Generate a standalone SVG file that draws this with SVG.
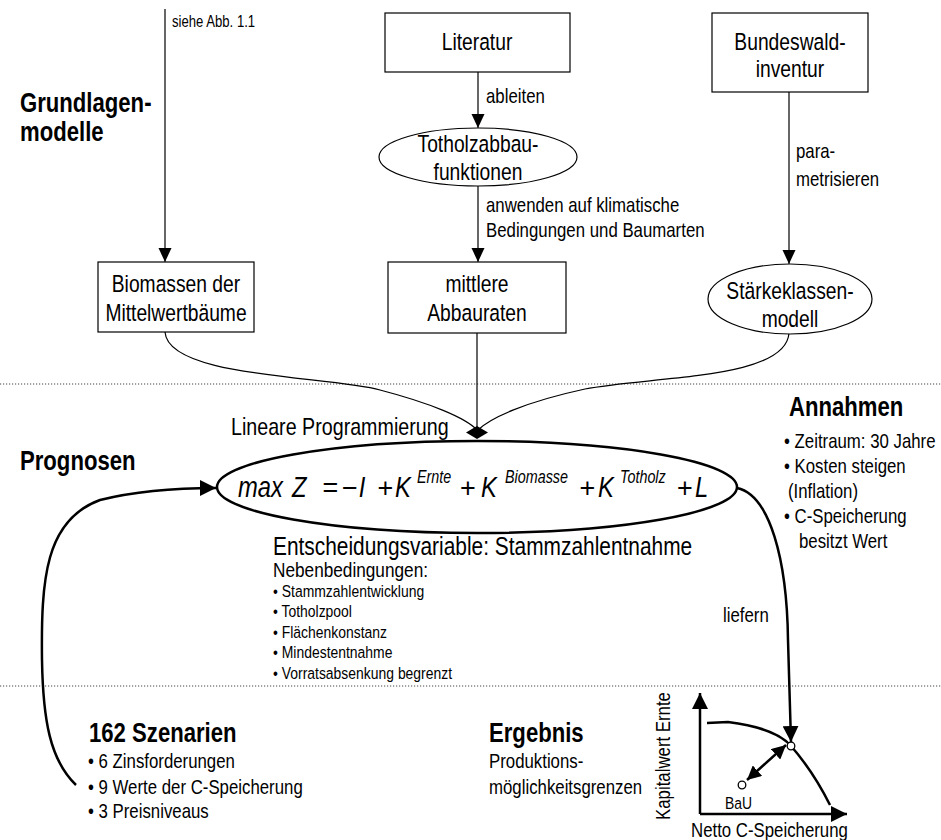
<svg xmlns="http://www.w3.org/2000/svg" width="941" height="840" viewBox="0 0 941 840">
<style>
text{font-family:"Liberation Sans",Arial,sans-serif;fill:#000}
.node{font-size:23.5px;text-anchor:middle}
.lbl{font-size:20.5px}
.ttl{font-size:27px;font-weight:bold}
.b17{font-size:20.5px}
.b14{font-size:17px}
.shape{fill:#fff;stroke:#000;stroke-width:1.2}
.thin{fill:none;stroke:#000;stroke-width:1.2}
.thick{fill:none;stroke:#000;stroke-width:2.5}
.dots{stroke:#444;stroke-width:1;stroke-dasharray:1.2 1.8}
.it{font-style:italic;font-size:29px}
.op{font-size:27px;text-anchor:middle}
.sup{font-style:italic;font-size:17.5px}
</style>
<defs>
<marker id="a" markerUnits="userSpaceOnUse" markerWidth="13" markerHeight="14" refX="14" refY="6.5" orient="auto">
<path d="M0,0 L14,6.5 L0,13 z" fill="#000"/>
</marker>
<marker id="ab" markerUnits="userSpaceOnUse" markerWidth="16" markerHeight="16" refX="16" refY="8" orient="auto">
<path d="M0,0 L16,8 L0,16 z" fill="#000"/>
</marker>
<marker id="ac" markerUnits="userSpaceOnUse" markerWidth="14" markerHeight="14" refX="14" refY="7" orient="auto-start-reverse">
<path d="M0,0 L14,7 L0,14 z" fill="#000"/>
</marker>
</defs>

<!-- dotted section separators -->
<line class="dots" x1="0" y1="384" x2="941" y2="384"/>
<line class="dots" x1="0" y1="686" x2="941" y2="686"/>

<!-- section titles (narrow: x scaled by 1/0.82) -->
<g transform="scale(0.82 1)">
<text class="ttl" x="24.39" y="112">Grundlagen-</text>
<text class="ttl" x="24.39" y="141">modelle</text>
<text class="ttl" x="24.39" y="470">Prognosen</text>
</g>

<!-- connectors -->
<g id="connectors">
<line class="thin" x1="165" y1="9" x2="165" y2="262" marker-end="url(#a)"/>
<line class="thin" x1="478" y1="72" x2="478" y2="128" marker-end="url(#a)"/>
<line class="thin" x1="478" y1="186" x2="478" y2="262" marker-end="url(#a)"/>
<line class="thin" x1="789" y1="92" x2="789" y2="264" marker-end="url(#a)"/>
<path class="thin" d="M165,332 C168,378 330,376 380,390 C430,403 466,418 477,430"/>
<line class="thin" x1="477" y1="333" x2="477" y2="428"/>
<path class="thin" d="M789,333 C786,380 650,376 585,389 C525,402 490,418 478,430"/>
<polygon points="477,426 488,432.5 477,439 466,432.5" fill="#000"/>
<path class="thick" d="M76,785 C50,760 43,720 42,660 C41,580 45,520 100,500 C140,490 180,488 216,488" marker-end="url(#ab)"/>
<path class="thick" d="M737,488 C770,495 787,560 788,640 L791,742" marker-end="url(#ab)"/>
<g transform="scale(0.82 1)">
<text class="lbl" x="592.68" y="103">ableiten</text>
<text class="lbl" x="592.68" y="212">anwenden auf klimatische</text>
<text class="lbl" x="592.68" y="237">Bedingungen und Baumarten</text>
<text class="lbl" x="970.73" y="158">para-</text>
<text class="lbl" x="970.73" y="186">metrisieren</text>
<text class="lbl" x="881.71" y="622">liefern</text>
<text x="209.76" y="27" style="font-size:16px">siehe Abb. 1.1</text>
</g>
</g>

<g id="literatur">
<rect class="shape" x="385" y="13" width="185" height="59"/>
<g transform="scale(0.82 1)"><text class="node" x="581.71" y="50">Literatur</text></g>
</g>

<g id="totholzabbaufunktionen">
<ellipse class="shape" cx="478" cy="157" rx="99" ry="29"/>
<g transform="scale(0.82 1)">
<text class="node" x="582.93" y="152">Totholzabbau-</text>
<text class="node" x="582.93" y="180">funktionen</text>
</g>
</g>

<g id="bundeswaldinventur">
<rect class="shape" x="712" y="13" width="156" height="79"/>
<g transform="scale(0.82 1)">
<text class="node" x="963.41" y="50">Bundeswald-</text>
<text class="node" x="963.41" y="77">inventur</text>
</g>
</g>

<g id="biomassen">
<rect class="shape" x="98" y="262" width="156" height="70"/>
<g transform="scale(0.82 1)">
<text class="node" x="214.63" y="292">Biomassen der</text>
<text class="node" x="214.63" y="321">Mittelwertbäume</text>
</g>
</g>

<g id="abbauraten">
<rect class="shape" x="388" y="262" width="178" height="71"/>
<g transform="scale(0.82 1)">
<text class="node" x="581.71" y="292">mittlere</text>
<text class="node" x="581.71" y="321">Abbauraten</text>
</g>
</g>

<g id="staerkeklassenmodell">
<ellipse class="shape" cx="790" cy="299" rx="82" ry="35"/>
<g transform="scale(0.82 1)">
<text class="node" x="963.41" y="299">Stärkeklassen-</text>
<text class="node" x="963.41" y="327">modell</text>
</g>
</g>

<g id="lineare-programmierung">
<ellipse cx="477" cy="487" rx="260" ry="46" fill="none" stroke="#000" stroke-width="2.5"/>
<text class="op" x="330.5" y="497">=</text>
<text class="op" x="350" y="497">−</text>
<text class="op" x="385.5" y="497">+</text>
<text class="op" x="468" y="497">+</text>
<text class="op" x="587.5" y="497">+</text>
<text class="op" x="685" y="497">+</text>
<g transform="scale(0.82 1)">
<text x="281.71" y="435" style="font-size:24px">Lineare Programmierung</text>
<text class="it" x="290.24" y="497">max</text>
<text class="it" x="356.10" y="497">Z</text>
<text class="it" x="437.5" y="497">I</text>
<text class="it" x="481.71" y="497">K</text>
<text class="sup" x="508.54" y="483">Ernte</text>
<text class="it" x="586.59" y="497">K</text>
<text class="sup" x="615.85" y="483">Biomasse</text>
<text class="it" x="729.27" y="497">K</text>
<text class="sup" x="756.10" y="483">Totholz</text>
<text class="it" x="847.56" y="497">L</text>
<text x="332.93" y="555" style="font-size:25.5px">Entscheidungsvariable: Stammzahlentnahme</text>
<text x="332.93" y="577" style="font-size:21px">Nebenbedingungen:</text>
<text class="b14" x="332.93" y="597">• Stammzahlentwicklung</text>
<text class="b14" x="332.93" y="617">• Totholzpool</text>
<text class="b14" x="332.93" y="638">• Flächenkonstanz</text>
<text class="b14" x="332.93" y="658">• Mindestentnahme</text>
<text class="b14" x="332.93" y="679">• Vorratsabsenkung begrenzt</text>
</g>
</g>

<g id="annahmen">
<g transform="scale(0.82 1)">
<text class="ttl" x="962.20" y="416">Annahmen</text>
<text class="b17" x="956.10" y="448">• Zeitraum: 30 Jahre</text>
<text class="b17" x="956.10" y="473">• Kosten steigen</text>
<text class="b17" x="960.98" y="498">(Inflation)</text>
<text class="b17" x="956.10" y="523">• C-Speicherung</text>
<text class="b17" x="974.39" y="548">besitzt Wert</text>
</g>
</g>

<g id="szenarien">
<g transform="scale(0.82 1)">
<text class="ttl" x="108.54" y="742">162 Szenarien</text>
<text class="b17" x="107.32" y="768">• 6 Zinsforderungen</text>
<text class="b17" x="107.32" y="794">• 9 Werte der C-Speicherung</text>
<text class="b17" x="107.32" y="818">• 3 Preisniveaus</text>
</g>
</g>

<g id="ergebnis">
<g transform="scale(0.82 1)">
<text class="ttl" x="596.34" y="742">Ergebnis</text>
<text class="b17" x="596.34" y="768">Produktions-</text>
<text class="b17" x="596.34" y="794">möglichkeitsgrenzen</text>
</g>
</g>

<g id="chart">
<line class="thick" x1="700" y1="814" x2="700" y2="693" stroke-width="2" marker-end="url(#ab)"/>
<line class="thick" x1="700" y1="814" x2="847" y2="814" stroke-width="2" marker-end="url(#ab)"/>
<path class="thick" d="M707,723 L728,722 C760,726 782,735 791,746 C805,762 820,785 830,805"/>
<line class="thick" x1="786" y1="745" x2="747" y2="780" stroke-width="2.5" marker-start="url(#ac)" marker-end="url(#ac)"/>
<circle cx="791" cy="746" r="3.8" fill="#fff" stroke="#000" stroke-width="1.3"/>
<circle cx="742" cy="785" r="3.8" fill="#fff" stroke="#000" stroke-width="1.3"/>
<g transform="scale(0.82 1)">
<text class="b14" x="884.15" y="809">BaU</text>
<text class="b17" x="842.68" y="837">Netto C-Speicherung</text>
</g>
<text class="b17" transform="translate(670 756) rotate(-90) scale(0.82 1)" text-anchor="middle">Kapitalwert Ernte</text>
</g>
</svg>
